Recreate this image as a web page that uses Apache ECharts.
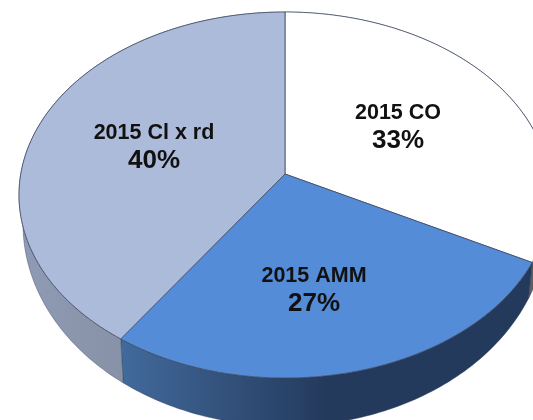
<!DOCTYPE html>
<html>
<head>
<meta charset="utf-8">
<style>html,body{margin:0;padding:0;background:#fff}#c{width:533px;height:420px}</style>
<script src="https://cdn.jsdelivr.net/npm/echarts@6/dist/echarts.min.js"></script>
</head>
<body>
<div id="c"></div>
<script>
const categories = ['2015 CO', '2015 AMM', '2015 Cl x rd'];
const shares = [33, 27, 40];

const topColors = ['#ffffff', '#558cd7', '#adbbdb'];
const wallColors = [
  ['#808080', '#5c5c5c'],
  ['#426a9c', '#243a5c'],
  ['#8f9bb5', '#7c8391']
];
const labelAnchors = [[398, 113], [314, 276], [154, 133]];
const apex = [285, 174];
const upperRim = { cx: 285, cy: 195, rx: 266, ry: 183 };
const lowerRim = { cx: 285, cy: 224, rx: 262, ry: 202 };

const total = shares.reduce((a, b) => a + b, 0);
const rad = Math.PI / 180;
// foreshortening of the tilted disc: true angle -> angle along the drawn rim
const rimAngle = t => t - 14.8 * Math.sin(t * rad) - 6.9 * Math.sin(2 * t * rad);
const rimPoint = (rim, t) => {
  const p = rimAngle(t) * rad;
  return [rim.cx + rim.rx * Math.sin(p), rim.cy - rim.ry * Math.cos(p)];
};
const arc = (rim, a, b) => {
  const n = Math.max(8, Math.ceil(Math.abs(b - a)));
  const pts = [];
  for (let i = 0; i <= n; i++) pts.push(rimPoint(rim, a + (b - a) * i / n));
  return pts;
};

function renderItem(params, api) {
  const i = params.dataIndex;
  let before = 0;
  for (let k = 0; k < i; k++) before += shares[k];
  const a = before / total * 360;
  const b = (before + api.value(1)) / total * 360;
  const top = arc(upperRim, a, b);
  const wall = top.concat(arc(lowerRim, a, b).reverse());
  return {
    type: 'group',
    children: [
      {
        type: 'polygon',
        z2: 1,
        shape: { points: wall },
        style: {
          fill: {
            type: 'linear', x: 0, y: 0, x2: 1, y2: 0,
            colorStops: [
              { offset: 0, color: wallColors[i][0] },
              { offset: i === 1 ? 0.5 : 1, color: wallColors[i][1] },
              { offset: 1, color: wallColors[i][1] }
            ]
          },
          stroke: '#2b3a55',
          lineWidth: 0.4
        }
      },
      {
        type: 'polygon',
        z2: 2,
        shape: { points: [apex].concat(top) },
        style: { fill: topColors[i], stroke: '#3d4a63', lineWidth: 0.8 }
      },
      {
        type: 'text',
        z2: 3,
        style: {
          x: labelAnchors[i][0], y: labelAnchors[i][1],
          text: categories[i],
          align: 'center', verticalAlign: 'middle',
          font: 'bold 21.5px "Liberation Sans", Arial, sans-serif',
          fill: '#111'
        }
      },
      {
        type: 'text',
        z2: 3,
        style: {
          x: labelAnchors[i][0], y: labelAnchors[i][1] + 28,
          text: api.value(1) + '%',
          align: 'center', verticalAlign: 'middle',
          font: 'bold 26px "Liberation Sans", Arial, sans-serif',
          fill: '#111'
        }
      }
    ]
  };
}

const chart = echarts.init(document.getElementById('c'), null, { renderer: 'canvas', width: 533, height: 420 });
chart.setOption({
  animation: false,
  backgroundColor: '#ffffff',
  series: [{
    type: 'custom',
    coordinateSystem: 'none',
    renderItem,
    data: shares.map((v, i) => [i, v]),
    clip: false
  }]
});
</script>
</body>
</html>
